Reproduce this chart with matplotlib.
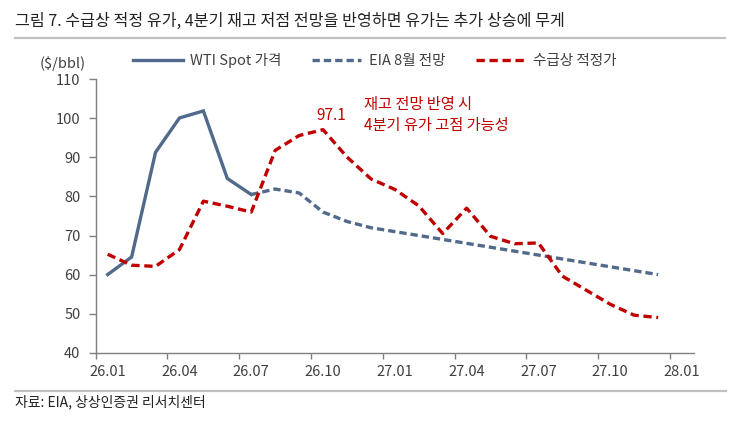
import matplotlib
matplotlib.use("Agg")
import matplotlib.pyplot as plt
from matplotlib.lines import Line2D
import numpy as np

plt.rcParams['font.family'] = ['Noto Sans CJK KR', 'DejaVu Sans']

# ---- data ----
month_labels = ["26.01", "26.04", "26.07", "26.10", "27.01", "27.04", "27.07", "27.10", "28.01"]
n_months = 25  # 26.01 .. 28.01

wti_spot = [60.0, 64.5, 91.3, 100.1, 101.9, 84.6, 80.5]               # 26.01 - 26.07
eia_aug = [80.5, 81.9, 80.9, 76.0, 73.6, 72.0, 71.0, 70.0, 69.0, 68.0,
           67.0, 66.0, 65.0, 64.0, 63.0, 62.0, 61.0, 60.0]           # 26.07 - 27.12
fair_price = [65.2, 62.4, 62.1, 66.4, 78.8, 77.5, 76.0, 91.8, 95.6, 97.1,
              90.1, 84.5, 81.8, 77.6, 70.5, 77.0, 69.8, 67.9, 68.1, 59.6,
              56.0, 52.4, 49.6, 49.0]                                 # 26.01 - 27.12

peak_label = "97.1"
note_lines = ["재고 전망 반영 시", "4분기 유가 고점 가능성"]
series_names = ["WTI Spot 가격", "EIA 8월 전망", "수급상 적정가"]
title = "그림 7. 수급상 적정 유가, 4분기 재고 저점 전망을 반영하면 유가는 추가 상승에 무게"
source = "자료: EIA, 상상인증권 리서치센터"
unit = "(\\$/bbl)"

# ---- styles ----
blue = "#51698a"
red = "#c00000"
txt = "#404040"
axis_c = "#7f7f7f"

W, H = 745, 440
fig = plt.figure(figsize=(W / 100, H / 100), dpi=100, facecolor="white")
ax = fig.add_axes([95.7 / W, 1 - 352.7 / H, (694 - 95.7) / W, (352.7 - 79.3) / H])

x_wti = np.arange(len(wti_spot))
x_eia = np.arange(len(eia_aug)) + (len(wti_spot) - 1)
x_fair = np.arange(len(fair_price))

l1, = ax.plot(x_wti, wti_spot, color=blue, lw=2.4, solid_joinstyle="miter")
l2, = ax.plot(x_eia, eia_aug, color=blue, lw=2.4, linestyle=(0, (2.2, 1.2)))
l3, = ax.plot(x_fair, fair_price, color=red, lw=2.4, linestyle=(0, (2.5, 1.4)))

ax.set_xlim(-0.5, n_months - 0.5)
ax.set_ylim(40, 110)
ax.set_yticks(np.arange(40, 111, 10))

# category axis: tick marks between categories, labels centered on categories
ax.set_xticks(np.arange(-0.5, n_months - 0.5, 3))
ax.set_xticklabels([])
ax.set_xticks(np.arange(0, n_months, 3), minor=True)
ax.set_xticklabels(month_labels, minor=True)
ax.tick_params(axis="x", which="major", length=4, width=1, color=axis_c, direction="out")
ax.tick_params(axis="x", which="minor", length=0, pad=9, labelsize=10.5, labelcolor=txt)
ax.tick_params(axis="y", length=5, width=1, color=axis_c, direction="out", pad=6,
               labelsize=10.5, labelcolor=txt)

for s in ["top", "right"]:
    ax.spines[s].set_visible(False)
for s in ["left", "bottom"]:
    ax.spines[s].set_color(axis_c)
    ax.spines[s].set_linewidth(1)

# annotations
ax.text(9.36, 100.7, peak_label, color=red, fontsize=11, ha="center", va="center")
ax.text(10.71, 103.6, note_lines[0], color=red, fontsize=11, ha="left", va="center")
ax.text(10.71, 98.2, note_lines[1], color=red, fontsize=11, ha="left", va="center")

# legend
ax_w = 694 - 95.7
leg = ax.legend([l1, l2, l3], series_names, ncol=3, frameon=False,
                loc="center left",
                bbox_to_anchor=((133 - 95.7) / ax_w, 1 + (79.3 - 60.7) / (352.7 - 79.3)),
                handlelength=3.4, handletextpad=0.5, columnspacing=2.1,
                fontsize=10.5, borderaxespad=0, borderpad=0)
for t in leg.get_texts():
    t.set_color(txt)

# unit label
fig.text(63 / W, 1 - 63.3 / H, unit, fontsize=10.5, color=txt, ha="center", va="center")

# title + rules + source
fig.text(15 / W, 1 - 21.5 / H, title, fontsize=11.6, color="#222222", ha="left", va="center")
fig.add_artist(Line2D([15 / W, 725 / W], [1 - 37.7 / H, 1 - 37.7 / H], color="#c0c0c0", lw=1.6))
fig.add_artist(Line2D([15 / W, 725.7 / W], [1 - 390.7 / H, 1 - 390.7 / H], color="#c0c0c0", lw=1.6))
fig.text(15 / W, 1 - 402 / H, source, fontsize=10, color="#222222", ha="left", va="center")

fig.savefig("out.png", dpi=100, facecolor="white")
